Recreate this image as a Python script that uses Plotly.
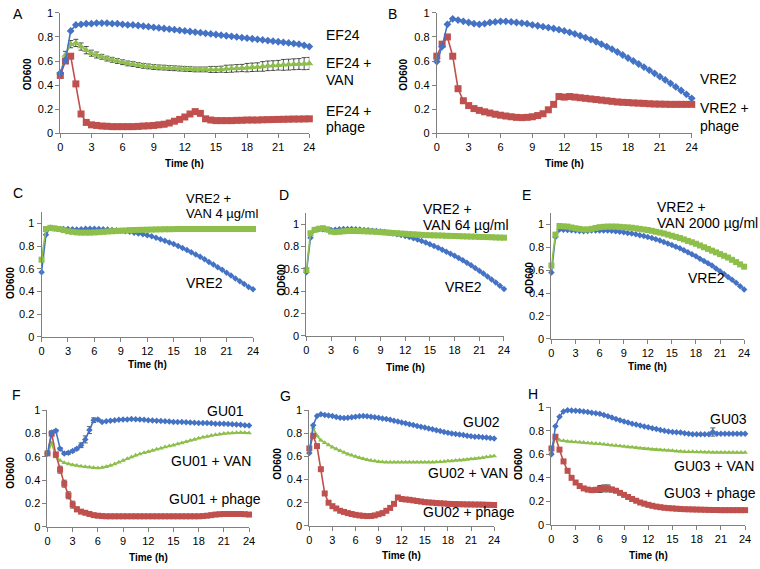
import plotly.graph_objects as go

W, H = 760, 569

time_h = [i * 0.5 for i in range(49)]

# ---------------- Panel A ----------------
a_ef24 = [0.50, 0.61, 0.85, 0.90, 0.905, 0.91, 0.91, 0.915, 0.915, 0.915, 0.91, 0.91, 0.905, 0.90, 0.90, 0.895,
          0.89, 0.885, 0.88, 0.875, 0.87, 0.865, 0.86, 0.855, 0.85, 0.845, 0.84, 0.835, 0.83, 0.825, 0.82, 0.815,
          0.81, 0.805, 0.80, 0.795, 0.79, 0.785, 0.78, 0.775, 0.77, 0.765, 0.76, 0.755, 0.75, 0.745, 0.74, 0.73, 0.72]
a_van = [0.50, 0.65, 0.74, 0.75, 0.72, 0.69, 0.665, 0.65, 0.635, 0.62, 0.61, 0.60, 0.59, 0.58, 0.575, 0.567,
         0.56, 0.555, 0.55, 0.547, 0.545, 0.542, 0.54, 0.537, 0.535, 0.533, 0.53, 0.53, 0.53, 0.53, 0.53, 0.532,
         0.535, 0.537, 0.54, 0.542, 0.545, 0.548, 0.55, 0.555, 0.56, 0.562, 0.565, 0.568, 0.57, 0.573, 0.575, 0.578, 0.58]
a_van_err = [0.01, 0.03, 0.03, 0.03, 0.03, 0.03, 0.025, 0.025, 0.02, 0.02, 0.02, 0.02, 0.02, 0.02, 0.02, 0.02,
             0.02, 0.02, 0.02, 0.02, 0.02, 0.02, 0.02, 0.02, 0.02, 0.02, 0.02, 0.02, 0.02, 0.025, 0.025, 0.025,
             0.03, 0.03, 0.03, 0.03, 0.035, 0.035, 0.035, 0.04, 0.04, 0.04, 0.04, 0.045, 0.045, 0.045, 0.045, 0.05, 0.05]
a_phage = [0.48, 0.60, 0.64, 0.41, 0.16, 0.09, 0.07, 0.065, 0.06, 0.058, 0.055, 0.055, 0.055, 0.055, 0.055, 0.057,
           0.06, 0.062, 0.065, 0.07, 0.075, 0.085, 0.10, 0.115, 0.135, 0.16, 0.18, 0.165, 0.12, 0.11, 0.105, 0.105,
           0.105, 0.105, 0.107, 0.108, 0.11, 0.11, 0.11, 0.112, 0.113, 0.114, 0.115, 0.116, 0.117, 0.118, 0.118, 0.119, 0.12]

# ---------------- Panel B ----------------
b_vre2 = [0.595, 0.72, 0.905, 0.95, 0.94, 0.93, 0.92, 0.91, 0.905, 0.91, 0.92, 0.925, 0.93, 0.93, 0.925, 0.92,
          0.915, 0.91, 0.90, 0.893, 0.885, 0.878, 0.87, 0.86, 0.85, 0.838, 0.825, 0.81, 0.795, 0.778, 0.76, 0.74,
          0.72, 0.698, 0.675, 0.65, 0.625, 0.60, 0.575, 0.55, 0.525, 0.498, 0.47, 0.443, 0.415, 0.385, 0.355, 0.323, 0.29]
b_phage = [0.64, 0.74, 0.80, 0.64, 0.37, 0.27, 0.23, 0.205, 0.19, 0.178, 0.168, 0.158, 0.15, 0.143, 0.137, 0.132,
           0.13, 0.132, 0.137, 0.147, 0.162, 0.195, 0.24, 0.305, 0.30, 0.305, 0.30, 0.295, 0.29, 0.285, 0.28, 0.275,
           0.27, 0.265, 0.26, 0.257, 0.255, 0.252, 0.25, 0.248, 0.245, 0.243, 0.242, 0.241, 0.24, 0.24, 0.24, 0.24, 0.24]

# ---------------- Panel C ----------------
c_vre2 = [0.57, 0.90, 0.96, 0.955, 0.95, 0.95, 0.95, 0.948, 0.945, 0.948, 0.952, 0.953, 0.952, 0.95, 0.948, 0.945,
          0.942, 0.938, 0.934, 0.93, 0.925, 0.918, 0.91, 0.903, 0.895, 0.885, 0.873, 0.86, 0.847, 0.832, 0.817, 0.80,
          0.783, 0.765, 0.745, 0.725, 0.705, 0.683, 0.66, 0.637, 0.613, 0.59, 0.565, 0.54, 0.515, 0.49, 0.465, 0.44, 0.42]
c_van4 = [0.68, 0.95, 0.96, 0.955, 0.95, 0.94, 0.93, 0.925, 0.92, 0.918, 0.918, 0.918, 0.92, 0.922, 0.925, 0.928,
          0.93, 0.932, 0.935, 0.937, 0.94, 0.941, 0.942, 0.943, 0.944, 0.945, 0.946, 0.947, 0.948, 0.948, 0.949, 0.95,
          0.95, 0.95, 0.95, 0.95, 0.95, 0.95, 0.95, 0.95, 0.95, 0.95, 0.95, 0.95, 0.95, 0.95, 0.95, 0.95, 0.95]

# ---------------- Panel D ----------------
d_vre2 = [0.57, 0.88, 0.95, 0.955, 0.955, 0.952, 0.95, 0.952, 0.955, 0.957, 0.958, 0.957, 0.955, 0.953, 0.95, 0.947,
          0.943, 0.939, 0.935, 0.93, 0.925, 0.918, 0.91, 0.903, 0.895, 0.886, 0.876, 0.864, 0.851, 0.837, 0.822, 0.806,
          0.79, 0.773, 0.755, 0.737, 0.718, 0.698, 0.677, 0.655, 0.632, 0.608, 0.583, 0.558, 0.532, 0.505, 0.478, 0.45, 0.42]
d_van64 = [0.59, 0.92, 0.95, 0.96, 0.965, 0.955, 0.935, 0.93, 0.933, 0.937, 0.94, 0.94, 0.94, 0.939, 0.938, 0.936,
           0.935, 0.932, 0.93, 0.927, 0.925, 0.922, 0.92, 0.917, 0.915, 0.912, 0.91, 0.908, 0.905, 0.903, 0.902, 0.901,
           0.90, 0.899, 0.897, 0.896, 0.895, 0.894, 0.892, 0.891, 0.89, 0.889, 0.887, 0.886, 0.885, 0.884, 0.882, 0.881, 0.88]

# ---------------- Panel E ----------------
e_vre2 = [0.58, 0.89, 0.955, 0.952, 0.95, 0.947, 0.945, 0.942, 0.94, 0.942, 0.945, 0.946, 0.946, 0.946, 0.945, 0.943,
          0.94, 0.935, 0.93, 0.925, 0.92, 0.913, 0.905, 0.898, 0.89, 0.88, 0.87, 0.858, 0.845, 0.833, 0.82, 0.805,
          0.79, 0.773, 0.755, 0.738, 0.72, 0.70, 0.68, 0.66, 0.64, 0.615, 0.59, 0.565, 0.54, 0.515, 0.49, 0.46, 0.43]
e_van2000 = [0.64, 0.91, 0.985, 0.982, 0.98, 0.972, 0.965, 0.96, 0.955, 0.955, 0.96, 0.968, 0.975, 0.978, 0.98, 0.98,
             0.98, 0.978, 0.975, 0.973, 0.97, 0.965, 0.96, 0.955, 0.95, 0.943, 0.935, 0.928, 0.92, 0.91, 0.90, 0.89,
             0.88, 0.868, 0.855, 0.843, 0.83, 0.815, 0.80, 0.785, 0.77, 0.755, 0.74, 0.725, 0.71, 0.69, 0.67, 0.65, 0.63]

# ---------------- Panel F ----------------
f_gu01 = [0.63, 0.81, 0.825, 0.67, 0.63, 0.635, 0.65, 0.67, 0.70, 0.75, 0.83, 0.915, 0.92, 0.90, 0.905, 0.91,
          0.915, 0.918, 0.92, 0.922, 0.925, 0.923, 0.92, 0.918, 0.915, 0.912, 0.91, 0.908, 0.905, 0.903, 0.90, 0.90,
          0.90, 0.897, 0.895, 0.893, 0.89, 0.89, 0.89, 0.888, 0.885, 0.885, 0.885, 0.883, 0.88, 0.878, 0.875, 0.872, 0.87]
f_gu01_err = [0, 0.01, 0.01, 0.01, 0.01, 0.01, 0.01, 0.01, 0.02, 0.03, 0.03, 0.02, 0.01, 0, 0, 0,
              0, 0, 0, 0, 0, 0, 0, 0, 0, 0, 0, 0, 0, 0, 0, 0,
              0, 0, 0, 0, 0, 0, 0, 0, 0, 0, 0, 0, 0, 0, 0, 0, 0]
f_van = [0.62, 0.72, 0.60, 0.57, 0.55, 0.54, 0.53, 0.525, 0.52, 0.515, 0.51, 0.507, 0.505, 0.508, 0.515, 0.527,
         0.54, 0.555, 0.57, 0.585, 0.60, 0.613, 0.625, 0.635, 0.645, 0.655, 0.665, 0.675, 0.685, 0.693, 0.70, 0.71,
         0.72, 0.73, 0.74, 0.75, 0.76, 0.768, 0.775, 0.783, 0.79, 0.795, 0.80, 0.803, 0.805, 0.808, 0.81, 0.808, 0.805]
f_phage = [0.63, 0.80, 0.62, 0.49, 0.37, 0.27, 0.19, 0.15, 0.13, 0.12, 0.11, 0.10, 0.095, 0.092, 0.09, 0.09,
           0.09, 0.09, 0.09, 0.09, 0.09, 0.09, 0.09, 0.09, 0.09, 0.09, 0.09, 0.09, 0.09, 0.09, 0.09, 0.09,
           0.09, 0.09, 0.09, 0.09, 0.09, 0.092, 0.095, 0.10, 0.105, 0.108, 0.11, 0.11, 0.11, 0.11, 0.11, 0.108, 0.105]
f_phage_err = [0, 0.02, 0.02, 0.03, 0.03, 0.03, 0.03, 0.02, 0.01, 0.01, 0, 0, 0, 0, 0, 0,
               0, 0, 0, 0, 0, 0, 0, 0, 0, 0, 0, 0, 0, 0, 0, 0,
               0, 0, 0, 0, 0, 0, 0, 0, 0, 0, 0, 0, 0, 0, 0, 0, 0]

# ---------------- Panel G ----------------
g_gu02 = [0.63, 0.87, 0.95, 0.965, 0.96, 0.955, 0.95, 0.942, 0.935, 0.933, 0.935, 0.94, 0.945, 0.948, 0.95, 0.948,
          0.945, 0.94, 0.935, 0.93, 0.925, 0.918, 0.91, 0.903, 0.895, 0.888, 0.88, 0.873, 0.865, 0.858, 0.85, 0.843,
          0.835, 0.828, 0.82, 0.813, 0.805, 0.80, 0.795, 0.79, 0.785, 0.78, 0.775, 0.772, 0.77, 0.767, 0.765, 0.76, 0.755]
g_van = [0.63, 0.85, 0.78, 0.74, 0.72, 0.70, 0.68, 0.665, 0.65, 0.635, 0.62, 0.61, 0.60, 0.59, 0.58, 0.572,
         0.565, 0.56, 0.555, 0.552, 0.55, 0.55, 0.55, 0.55, 0.55, 0.55, 0.55, 0.55, 0.55, 0.55, 0.55, 0.55,
         0.55, 0.552, 0.555, 0.557, 0.56, 0.562, 0.565, 0.567, 0.57, 0.574, 0.578, 0.581, 0.585, 0.59, 0.595, 0.60, 0.605]
g_phage = [0.67, 0.78, 0.69, 0.49, 0.28, 0.20, 0.17, 0.15, 0.13, 0.12, 0.11, 0.102, 0.095, 0.09, 0.086, 0.084,
           0.085, 0.09, 0.10, 0.11, 0.13, 0.155, 0.19, 0.245, 0.232, 0.228, 0.225, 0.22, 0.215, 0.21, 0.205, 0.202,
           0.20, 0.197, 0.195, 0.193, 0.19, 0.189, 0.188, 0.187, 0.186, 0.185, 0.185, 0.184, 0.184, 0.183, 0.182, 0.181, 0.18]

# ---------------- Panel H ----------------
h_gu03 = [0.60, 0.84, 0.92, 0.965, 0.975, 0.973, 0.97, 0.968, 0.965, 0.96, 0.955, 0.95, 0.945, 0.935, 0.925, 0.913,
          0.90, 0.89, 0.88, 0.87, 0.86, 0.853, 0.845, 0.838, 0.83, 0.823, 0.815, 0.808, 0.80, 0.795, 0.79, 0.787,
          0.785, 0.78, 0.775, 0.772, 0.77, 0.77, 0.77, 0.772, 0.79, 0.775, 0.775, 0.775, 0.775, 0.775, 0.775, 0.775, 0.775]
h_gu03_err = [0, 0, 0, 0, 0, 0, 0, 0, 0, 0, 0, 0, 0, 0, 0, 0,
              0, 0, 0, 0, 0, 0, 0, 0, 0, 0, 0, 0, 0, 0, 0, 0,
              0, 0, 0, 0, 0, 0, 0, 0, 0.035, 0, 0, 0, 0, 0, 0, 0, 0]
h_van = [0.62, 0.75, 0.72, 0.715, 0.71, 0.708, 0.705, 0.702, 0.70, 0.697, 0.695, 0.692, 0.69, 0.686, 0.682, 0.678,
         0.675, 0.671, 0.667, 0.663, 0.66, 0.656, 0.652, 0.648, 0.645, 0.642, 0.64, 0.637, 0.635, 0.632, 0.63, 0.627,
         0.625, 0.623, 0.622, 0.621, 0.62, 0.619, 0.618, 0.617, 0.616, 0.615, 0.615, 0.615, 0.615, 0.615, 0.615, 0.615, 0.615]
h_phage = [0.65, 0.75, 0.64, 0.54, 0.46, 0.40, 0.36, 0.33, 0.31, 0.30, 0.295, 0.298, 0.305, 0.31, 0.31, 0.30,
           0.29, 0.272, 0.255, 0.237, 0.22, 0.205, 0.19, 0.18, 0.17, 0.162, 0.155, 0.15, 0.145, 0.142, 0.14, 0.137,
           0.135, 0.133, 0.132, 0.131, 0.13, 0.129, 0.128, 0.127, 0.126, 0.126, 0.125, 0.125, 0.125, 0.125, 0.125, 0.125, 0.125]
h_phage_err = [0, 0, 0, 0, 0, 0, 0, 0, 0, 0, 0, 0.02, 0.03, 0.03, 0.03, 0.02,
               0, 0, 0, 0, 0, 0, 0, 0, 0, 0, 0, 0, 0, 0, 0, 0,
               0, 0, 0, 0, 0, 0, 0, 0, 0, 0, 0, 0, 0, 0, 0, 0, 0]

x_ticks = [0, 3, 6, 9, 12, 15, 18, 21, 24]
y_ticks = [0, 0.2, 0.4, 0.6, 0.8, 1]

BLUE = "#4472C4"
RED = "#C0504D"
GREEN = "#8DBF4A"
FONT = "Liberation Sans, Arial, sans-serif"

# panel geometry in pixels: x0, x24, y_top(range max), y_zero, range max
panels = {
    "A": (58, 310, 7, 130, 1.0),
    "B": (439, 697, 7, 130, 1.0),
    "C": (39, 253, 210.4, 338, 1.1),
    "D": (307, 507, 211.6, 337, 1.1),
    "E": (555, 750, 211.3, 340, 1.1),
    "F": (45, 249, 413, 532, 1.0),
    "G": (310, 497, 413, 531, 1.0),
    "H": (555, 751, 410, 530, 1.0),
}

def px(x):
    return x / W

def py(y):
    return 1 - y / H

fig = go.Figure()
layout = dict(width=W, height=H, margin=dict(l=0, r=0, t=0, b=0),
              paper_bgcolor="white", plot_bgcolor="white", showlegend=False,
              font=dict(family=FONT, size=11, color="black"))

keys = list(panels.keys())
for i, k in enumerate(keys):
    x0, x1, yt, yb, ymax = panels[k]
    n = "" if i == 0 else str(i + 1)
    layout["xaxis" + n] = dict(domain=[px(x0), px(x1)], range=[0, 24], anchor="y" + n,
                               tickvals=x_ticks, ticks="outside", ticklen=4, tickcolor="#808080",
                               showline=True, linecolor="#808080", linewidth=1, showgrid=False,
                               zeroline=False, ticklabeloverflow="allow",
                               tickfont=dict(size=11, family=FONT, color="black"))
    layout["yaxis" + n] = dict(domain=[py(yb), py(yt)], range=[0, ymax], anchor="x" + n,
                               tickvals=y_ticks, ticks="outside", ticklen=4, tickcolor="#808080",
                               showline=True, linecolor="#808080", linewidth=1, showgrid=False,
                               zeroline=False, tickfont=dict(size=11, family=FONT, color="black"))

def add(panel_idx, y, color, symbol, size, err=None, errcolor="#333333"):
    n = "" if panel_idx == 0 else str(panel_idx + 1)
    tr = go.Scatter(x=time_h, y=y, mode="lines+markers", xaxis="x" + n, yaxis="y" + n,
                    line=dict(color=color, width=1.6),
                    marker=dict(color=color, symbol=symbol, size=size, line=dict(width=0)),
                    cliponaxis=False)
    if err is not None:
        tr.error_y = dict(type="data", array=err, visible=True, color=errcolor, thickness=0.8, width=2.5)
    fig.add_trace(tr)

# A
add(0, a_van, GREEN, "triangle-up", 7, a_van_err, "#222222")
add(0, a_phage, RED, "square", 7)
add(0, a_ef24, BLUE, "diamond", 6)
# B
add(1, b_phage, RED, "square", 7)
add(1, b_vre2, BLUE, "diamond", 6)
# C
add(2, c_vre2, BLUE, "diamond", 5)
add(2, c_van4, GREEN, "square", 6)
# D
add(3, d_vre2, BLUE, "diamond", 5)
add(3, d_van64, GREEN, "square", 6)
# E
add(4, e_vre2, BLUE, "diamond", 5)
add(4, e_van2000, GREEN, "square", 6)
# F
add(5, f_van, GREEN, "triangle-up", 5)
add(5, f_phage, RED, "square", 6, f_phage_err)
add(5, f_gu01, BLUE, "diamond", 5, f_gu01_err)
# G
add(6, g_van, GREEN, "triangle-up", 5)
add(6, g_phage, RED, "square", 6)
add(6, g_gu02, BLUE, "diamond", 5)
# H
add(7, h_van, GREEN, "triangle-up", 5)
add(7, h_phage, RED, "square", 6, h_phage_err)
add(7, h_gu03, BLUE, "diamond", 5, h_gu03_err)

fig.update_layout(**layout)

ann = []

def text(x, y, s, size=14, xanchor="left", bold=False, angle=0):
    ann.append(dict(x=px(x), y=py(y), xref="paper", yref="paper", text=("<b>%s</b>" % s) if bold else s,
                    showarrow=False, xanchor=xanchor, yanchor="middle", textangle=angle,
                    font=dict(family=FONT, size=size, color="black")))

# panel letters
for lab, (x, y) in {"A": (8, 8), "B": (388, 8), "C": (8, 191), "D": (277, 193), "E": (523, 193),
                    "F": (7, 397), "G": (278, 398), "H": (529, 396)}.items():
    text(x, y, lab, size=14)

# axis titles
for (x, y) in [(25, 70), (405, 70), (7, 283), (281, 280), (532, 278), (8, 477), (277, 468), (521, 468)]:
    text(x, y, "OD600", size=10, xanchor="center", bold=True, angle=-90)
for (x, y) in [(184, 161), (568, 161), (146, 366), (407, 369), (652, 368), (147, 563), (403, 561), (653, 561)]:
    text(x, y, "Time (h)", size=10, xanchor="center", bold=True)

# series labels
text(325, 30, "EF24")
text(325, 58, "EF24 +")
text(325, 76, "VAN")
text(325, 107, "EF24 +")
text(325, 124, "phage")
text(703, 75, "VRE2")
text(703, 104, "VRE2 +")
text(703, 123, "phage")
text(183, 196.5, "VRE2 +", size=13)
text(183, 212, "VAN 4 µg/ml", size=13)
text(183, 283, "VRE2")
text(423, 207, "VRE2 +")
text(423, 224, "VAN 64 µg/ml")
text(445, 287, "VRE2")
text(660, 205, "VRE2 +")
text(660, 222, "VAN 2000 µg/ml")
text(691, 278, "VRE2")
text(204, 414, "GU01")
text(168, 465, "GU01 + VAN")
text(166, 504, "GU01 + phage")
text(463, 425, "GU02")
text(428, 477, "GU02 + VAN")
text(423, 517, "GU02 + phage")
text(713, 422, "GU03")
text(677, 470, "GU03 + VAN")
text(667, 498, "GU03 + phage")

fig.update_layout(annotations=ann)
fig.write_html("out.html", config={"displayModeBar": False},
               post_script="document.body.style.margin='0';document.body.style.overflow='hidden';")
